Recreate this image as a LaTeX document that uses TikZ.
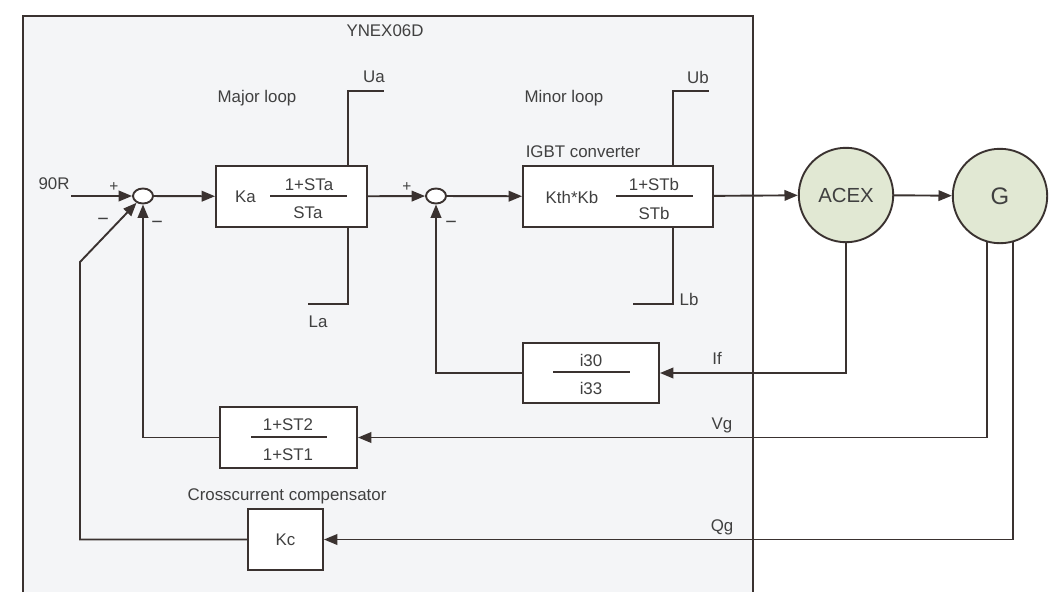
\documentclass[tikz,border=0pt]{standalone}
\usepackage{fontspec}
\setmainfont{Liberation Sans}
\usetikzlibrary{arrows.meta, positioning, shapes.geometric}
\definecolor{linec}{HTML}{3A3230}
\definecolor{textc}{HTML}{404040}
\definecolor{panelc}{HTML}{F4F5F7}
\definecolor{machinec}{HTML}{E1E8D3}

\begin{document}
\begin{tikzpicture}[
    x=0.025cm, y=-0.025cm,
    font=\fontsize{12}{14}\selectfont, text=textc,
    line width=1.35pt,
    block/.style={rectangle, draw=linec, fill=white, minimum height=1.525cm, inner sep=0pt},
    sumpt/.style={ellipse, draw=linec, fill=white, minimum width=0.5cm, minimum height=0.375cm, inner sep=0pt},
    machine/.style={circle, draw=linec, fill=machinec, minimum size=2.36cm, inner sep=0pt},
    sign/.style={font=\fontsize{11}{12}\selectfont},
    arrow/.style={-{Triangle[length=9.5pt, width=7.5pt]}, draw=linec},
    wire/.style={draw=linec}
]
\useasboundingbox (0,0) rectangle (1049,592);

% Controller panel
\fill[panelc] (23,16) rectangle (753,592);
\draw[wire] (23,592) -- (23,16) -- (753,16) -- (753,592);
\node at (385,31) {YNEX06D};

% Blocks
\node[sumpt] (j1) at (143,196) {};
\node[block, minimum width=3.775cm] (ka) at (291.5,196.5) {};
\node[sumpt] (j2) at (436,196) {};
\node[block, minimum width=4.75cm] (kth) at (618,196.5) {};
\node[block, minimum width=3.4cm, minimum height=1.5cm] (ifb) at (591,373) {};
\node[block, minimum width=3.425cm] (st2) at (288.5,437.5) {};
\node[block, minimum width=1.875cm] (kc) at (285.5,539.5) {Kc};
\node[machine, font=\fontsize{14.5}{16}\selectfont] (acex) at (846,195) {ACEX};
\node[machine, font=\fontsize{17}{19}\selectfont] (g) at (1000,196) {G};

% Transfer functions
\node at (245.5,197) {Ka};
\node at (309,185) {1+STa};
\draw[wire] (270,196) -- (347,196);
\node at (308,213) {STa};
\node at (572,197) {Kth*Kb};
\node at (654,184) {1+STb};
\draw[wire] (616,196) -- (693,196);
\node at (654,213) {STb};
\node at (591,360) {i30};
\draw[wire] (553,372) -- (630,372);
\node at (591,388) {i33};
\node at (288,425) {1+ST2};
\draw[wire] (251,437) -- (327,437);
\node at (288,455) {1+ST1};

% Labels
\node at (257,98) {Major loop};
\node at (564,98) {Minor loop};
\node at (583,152) {IGBT converter};
\node at (287,496) {Crosscurrent compensator};
\node at (54,184) {90R};
\node at (374,77) {Ua};
\node at (318,322) {La};
\node at (698,77) {Ub};
\node at (689,299) {Lb};
\node at (717,358) {If};
\node at (722,425) {Vg};
\node at (722,527) {Qg};
\node[sign] at (114,187) {+};
\node[sign, font=\fontsize{14}{15}\selectfont] at (103,222) {−};
\node[sign, font=\fontsize{14}{15}\selectfont] at (157,225) {−};
\node[sign] at (407,187) {+};
\node[sign, font=\fontsize{14}{15}\selectfont] at (451,225) {−};

% Limits
\coordinate (ua) at (384,91);
\coordinate (la) at (308,304);
\coordinate (ub) at (709,91);
\coordinate (lb) at (633,304);
\draw[wire] ([xshift=-0.5cm]ka.north east) |- (ua);
\draw[wire] ([xshift=-0.5cm]ka.south east) |- (la);
\draw[wire] ([xshift=-1.025cm]kth.north east) |- (ub);
\draw[wire] ([xshift=-1.025cm]kth.south east) |- (lb);

% Forward path
\coordinate (ref) at (71,196);
\draw[arrow] (ref) -- (j1);
\draw[arrow] (j1) -- (ka);
\draw[arrow] (ka) -- (j2);
\draw[arrow] (j2) -- (kth);
\draw[arrow] (kth) -- (acex);
\draw[arrow] (acex) -- (g);

% Feedback paths
\draw[arrow] (acex.south) |- (ifb.east);
\draw[arrow] (ifb.west) -| (j2.south);
\draw[arrow] (g.-106) |- (st2.east);
\draw[arrow] (st2.west) -| (j1.south);
\draw[arrow] (g.-74) |- (kc.east);
\coordinate (kink) at (80,262);
\draw[arrow] (kc.west) -| (kink) -- (j1);

\end{tikzpicture}
\end{document}
